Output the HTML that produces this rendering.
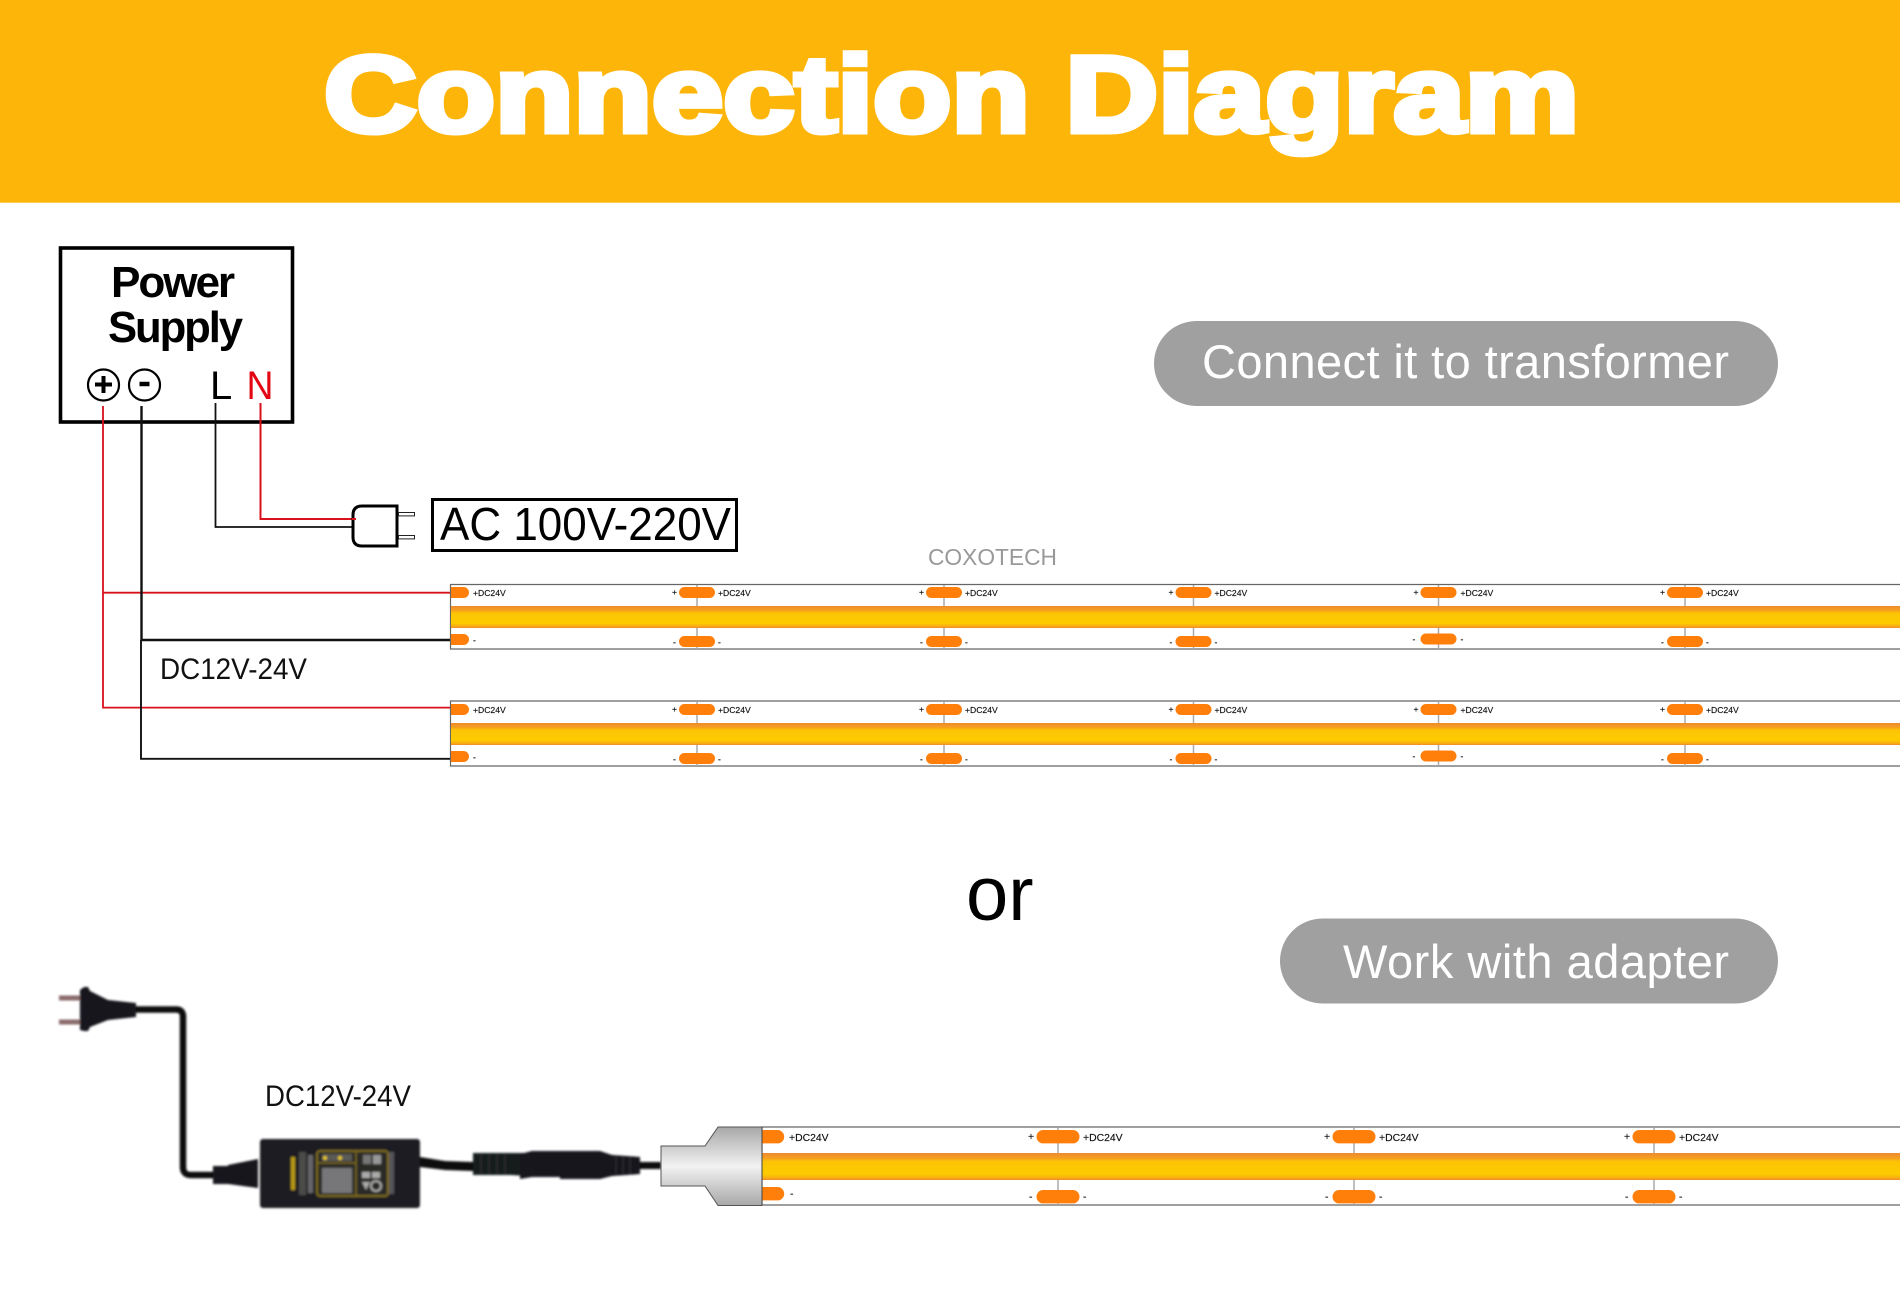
<!DOCTYPE html>
<html><head><meta charset="utf-8"><title>Connection Diagram</title>
<style>
html,body{margin:0;padding:0;background:#fff}
svg{display:block}
text{font-family:"Liberation Sans",sans-serif}
.s text{font-size:8.6px;fill:#111;stroke:#111;stroke-width:.15}
.l text{font-size:10.4px;fill:#111;stroke:#111;stroke-width:.15}
.cut{stroke:#aaa;stroke-width:1.5}
.p{fill:#ff7f0a}
</style></head><body>
<svg width="1900" height="1310" viewBox="0 0 1900 1310" xmlns="http://www.w3.org/2000/svg">
<defs>
<linearGradient id="b" x1="0" y1="0" x2="0" y2="1">
<stop offset="0" stop-color="#ee8a2e"/><stop offset=".2" stop-color="#f6a01f"/><stop offset=".32" stop-color="#fcc405"/><stop offset=".78" stop-color="#fdcb00"/><stop offset=".92" stop-color="#f9ad12"/><stop offset="1" stop-color="#ee8a2e"/>
</linearGradient>
<linearGradient id="g" x1="0" y1="0" x2="0" y2="1">
<stop offset="0" stop-color="#a8a8a8"/><stop offset=".5" stop-color="#f2f2f2"/><stop offset="1" stop-color="#a8a8a8"/>
</linearGradient>
<filter id="soft" x="-5%" y="-5%" width="110%" height="110%"><feGaussianBlur stdDeviation="1"/></filter>
</defs>
<rect width="1900" height="1310" fill="#fff"/>
<rect width="1900" height="202.7" fill="#fdb50a"/>
<text x="324" y="131.5" font-size="108" font-weight="700" fill="#fff" stroke="#fff" stroke-width="6" stroke-linejoin="miter" textLength="1255" lengthAdjust="spacingAndGlyphs">Connection Diagram</text>

<!-- power supply -->
<rect x="60.5" y="248" width="232" height="174" fill="none" stroke="#000" stroke-width="3.6"/>
<text x="111" y="297" font-size="44" font-weight="700" letter-spacing="-2.1" fill="#000" textLength="122" lengthAdjust="spacingAndGlyphs">Power</text>
<text x="108" y="342" font-size="44" font-weight="700" letter-spacing="-2.1" fill="#000" textLength="133" lengthAdjust="spacingAndGlyphs">Supply</text>
<circle cx="103.5" cy="385" r="15.5" fill="none" stroke="#000" stroke-width="2.2"/>
<circle cx="144.5" cy="385" r="15.5" fill="none" stroke="#000" stroke-width="2.2"/>
<path d="M103.5 376v17M95 384.5h17" stroke="#000" stroke-width="4" fill="none"/>
<path d="M139.5 384h10" stroke="#000" stroke-width="4.5" fill="none"/>
<text x="210" y="399" font-size="40" fill="#000">L</text>
<text x="246.5" y="399" font-size="40" fill="#e30613" textLength="27" lengthAdjust="spacingAndGlyphs">N</text>

<!-- wires -->
<path d="M215.5 403V527H352" fill="none" stroke="#111" stroke-width="1.8"/>
<path d="M260.5 403V519H355" fill="none" stroke="#d9111b" stroke-width="2"/>
<path d="M103 406V707.6H450M103 592.7H450" fill="none" stroke="#d9111b" stroke-width="1.8"/>
<path d="M141.5 406V640H450" fill="none" stroke="#111" stroke-width="2.4"/>
<path d="M141 640V758.8H450" fill="none" stroke="#111" stroke-width="1.9"/>

<!-- AC plug -->
<path d="M397 506H362Q353 506 353 515V537Q353 546 362 546H397Z" fill="none" stroke="#000" stroke-width="3"/>
<rect x="398.5" y="512.5" width="16" height="3.4" fill="#fff" stroke="#222" stroke-width="1"/>
<rect x="398.5" y="535.5" width="16" height="3.4" fill="#fff" stroke="#222" stroke-width="1"/>
<path d="M352 519h4" stroke="#d9111b" stroke-width="2"/>
<rect x="432.5" y="499.5" width="304" height="51" fill="none" stroke="#000" stroke-width="3"/>
<text x="440" y="540" font-size="46" fill="#000" textLength="291" lengthAdjust="spacingAndGlyphs">AC 100V-220V</text>

<!-- pills -->
<rect x="1154" y="321" width="624" height="85" rx="42.5" fill="#a0a0a0"/>
<text x="1202" y="378" font-size="47" fill="#fff" textLength="527">Connect it to transformer</text>
<rect x="1280" y="918.5" width="498" height="85" rx="42.5" fill="#a0a0a0"/>
<text x="1343" y="978" font-size="47" fill="#fff" textLength="386">Work with adapter</text>

<text x="928" y="565" font-size="23.5" fill="#999" textLength="129" lengthAdjust="spacingAndGlyphs">COXOTECH</text>
<text x="160" y="679" font-size="30" fill="#111" textLength="147" lengthAdjust="spacingAndGlyphs">DC12V-24V</text>
<text x="265" y="1106" font-size="30" fill="#111" textLength="146" lengthAdjust="spacingAndGlyphs">DC12V-24V</text>
<text x="966" y="920" font-size="76" fill="#000">or</text>

<!-- strip 1 -->
<path d="M1900 584.5H450.5V649H1900" fill="none" stroke="#666" stroke-width="1.2"/>
<rect x="451" y="606" width="1449" height="22" fill="url(#b)"/>
<g class="s">
<path class="p" d="M451 587h12.5a5.5 5.5 0 0 1 0 11H451zM451 634h12.5a5.5 5.5 0 0 1 0 11H451z"/>
<text x="473" y="596">+DC24V</text><text x="473" y="643">-</text>
<g transform="translate(697 0)"><path class="cut" d="M0 585V606M0 628V649"/><rect class="p" x="-18" y="587" width="36" height="11" rx="5.5"/><rect class="p" x="-18" y="636" width="36" height="11" rx="5.5"/><text x="-25" y="595">+</text><text x="21" y="596">+DC24V</text><text x="-24" y="645">-</text><text x="21" y="645">-</text></g>
<g transform="translate(944 0)"><path class="cut" d="M0 585V606M0 628V649"/><rect class="p" x="-18" y="587" width="36" height="11" rx="5.5"/><rect class="p" x="-18" y="636" width="36" height="11" rx="5.5"/><text x="-25" y="595">+</text><text x="21" y="596">+DC24V</text><text x="-24" y="645">-</text><text x="21" y="645">-</text></g>
<g transform="translate(1193.5 0)"><path class="cut" d="M0 585V606M0 628V649"/><rect class="p" x="-18" y="587" width="36" height="11" rx="5.5"/><rect class="p" x="-18" y="636" width="36" height="11" rx="5.5"/><text x="-25" y="595">+</text><text x="21" y="596">+DC24V</text><text x="-24" y="645">-</text><text x="21" y="645">-</text></g>
<g transform="translate(1438.5 0)"><path class="cut" d="M0 585V606M0 628V649"/><rect class="p" x="-18" y="587" width="36" height="11" rx="5.5"/><rect class="p" x="-18" y="633.5" width="36" height="11" rx="5.5"/><text x="-25" y="595">+</text><text x="22" y="596">+DC24V</text><text x="-26" y="642">-</text><text x="22" y="642">-</text></g>
<g transform="translate(1685 0)"><path class="cut" d="M0 585V606M0 628V649"/><rect class="p" x="-18" y="587" width="36" height="11" rx="5.5"/><rect class="p" x="-18" y="636" width="36" height="11" rx="5.5"/><text x="-25" y="595">+</text><text x="21" y="596">+DC24V</text><text x="-24" y="645">-</text><text x="21" y="645">-</text></g>
</g>

<!-- strip 2 -->
<path d="M1900 701H450.5V766H1900" fill="none" stroke="#666" stroke-width="1.2"/>
<rect x="451" y="723" width="1449" height="22" fill="url(#b)"/>
<g class="s">
<path class="p" d="M451 704h12.5a5.5 5.5 0 0 1 0 11H451zM451 751h12.5a5.5 5.5 0 0 1 0 11H451z"/>
<text x="473" y="713">+DC24V</text><text x="473" y="760">-</text>
<g transform="translate(697 0)"><path class="cut" d="M0 702V723M0 745V766"/><rect class="p" x="-18" y="704" width="36" height="11" rx="5.5"/><rect class="p" x="-18" y="753" width="36" height="11" rx="5.5"/><text x="-25" y="712">+</text><text x="21" y="713">+DC24V</text><text x="-24" y="762">-</text><text x="21" y="762">-</text></g>
<g transform="translate(944 0)"><path class="cut" d="M0 702V723M0 745V766"/><rect class="p" x="-18" y="704" width="36" height="11" rx="5.5"/><rect class="p" x="-18" y="753" width="36" height="11" rx="5.5"/><text x="-25" y="712">+</text><text x="21" y="713">+DC24V</text><text x="-24" y="762">-</text><text x="21" y="762">-</text></g>
<g transform="translate(1193.5 0)"><path class="cut" d="M0 702V723M0 745V766"/><rect class="p" x="-18" y="704" width="36" height="11" rx="5.5"/><rect class="p" x="-18" y="753" width="36" height="11" rx="5.5"/><text x="-25" y="712">+</text><text x="21" y="713">+DC24V</text><text x="-24" y="762">-</text><text x="21" y="762">-</text></g>
<g transform="translate(1438.5 0)"><path class="cut" d="M0 702V723M0 745V766"/><rect class="p" x="-18" y="704" width="36" height="11" rx="5.5"/><rect class="p" x="-18" y="750.5" width="36" height="11" rx="5.5"/><text x="-25" y="712">+</text><text x="22" y="713">+DC24V</text><text x="-26" y="759">-</text><text x="22" y="759">-</text></g>
<g transform="translate(1685 0)"><path class="cut" d="M0 702V723M0 745V766"/><rect class="p" x="-18" y="704" width="36" height="11" rx="5.5"/><rect class="p" x="-18" y="753" width="36" height="11" rx="5.5"/><text x="-25" y="712">+</text><text x="21" y="713">+DC24V</text><text x="-24" y="762">-</text><text x="21" y="762">-</text></g>
</g>

<!-- strip 3 -->
<path d="M1900 1127H762V1205H1900" fill="none" stroke="#666" stroke-width="1.2"/>
<rect x="762" y="1153" width="1138" height="27" fill="url(#b)"/>
<g class="l">
<path class="p" d="M762 1130h15.5a6.7 6.7 0 0 1 0 13.4H762zM762 1187h15.5a6.7 6.7 0 0 1 0 13.4H762z"/>
<text x="789" y="1141">+DC24V</text><text x="790" y="1197">-</text>
<g transform="translate(1058 0)"><path class="cut" d="M0 1128V1153M0 1180V1205"/><rect class="p" x="-21.5" y="1130" width="43" height="13.4" rx="6.7"/><rect class="p" x="-21.5" y="1190" width="43" height="13.4" rx="6.7"/><text x="-30" y="1140">+</text><text x="25" y="1141">+DC24V</text><text x="-29" y="1200">-</text><text x="25" y="1200">-</text></g>
<g transform="translate(1354 0)"><path class="cut" d="M0 1128V1153M0 1180V1205"/><rect class="p" x="-21.5" y="1130" width="43" height="13.4" rx="6.7"/><rect class="p" x="-21.5" y="1190" width="43" height="13.4" rx="6.7"/><text x="-30" y="1140">+</text><text x="25" y="1141">+DC24V</text><text x="-29" y="1200">-</text><text x="25" y="1200">-</text></g>
<g transform="translate(1654 0)"><path class="cut" d="M0 1128V1153M0 1180V1205"/><rect class="p" x="-21.5" y="1130" width="43" height="13.4" rx="6.7"/><rect class="p" x="-21.5" y="1190" width="43" height="13.4" rx="6.7"/><text x="-30" y="1140">+</text><text x="25" y="1141">+DC24V</text><text x="-29" y="1200">-</text><text x="25" y="1200">-</text></g>
</g>

<!-- photo parts -->
<g filter="url(#soft)">
<rect x="59" y="995.5" width="21" height="5" fill="#8a6a6a"/><rect x="59" y="1019.5" width="21" height="5" fill="#8a6a6a"/>
<path d="M80 990L84 987H88L90 991L108 1000L136 1003V1017L108 1020L90 1027L88 1031H84L80 1030Z" fill="#17191d"/>
<path d="M136 1009.5H176Q183 1009.5 183 1016.5V1167Q183 1175 191 1175H216" fill="none" stroke="#111" stroke-width="6.5"/>
<path d="M213 1166H230V1184H213Z" fill="#17191d"/>
<path d="M228 1165L258 1159V1188L228 1184Z" fill="#17191d"/>
<rect x="260" y="1139" width="160" height="69" rx="3" fill="#1a1c20"/>
<path d="M420 1157L445 1161L473 1162V1171L445 1170L420 1167Z" fill="#111"/>
<path d="M473 1153H510L530 1153V1176L510 1175H473Z" fill="#181a1e"/>
<path d="M481 1154v20M489 1154v20M497 1154v20M505 1154v20" stroke="#2f3136" stroke-width="1.2"/>
<path d="M520 1154L532 1151H560V1177H532L520 1179Z" fill="#17191d"/>
<path d="M560 1151H600L612 1155L640 1157V1174L612 1176L600 1179H560Z" fill="#17191d"/>
<path d="M616 1157v17M623 1157v17M630 1157v17" stroke="#2f3136" stroke-width="1.2"/>
<rect x="640" y="1162" width="21" height="7" fill="#111"/>
<!-- adapter label -->
<rect x="317" y="1151" width="71" height="45" rx="3" fill="#2a2a28" stroke="#7d6b1e" stroke-width="2"/>
<path d="M317 1163H356M356 1151V1196" stroke="#7d6b1e" stroke-width="1.5" fill="none"/>
<rect x="322" y="1168" width="30" height="25" fill="#77777a"/>
<rect x="322" y="1154" width="30" height="7" fill="#5a5a56"/>
<circle cx="325" cy="1158" r="2" fill="#e8c81e"/><circle cx="340" cy="1158" r="2" fill="#e8c81e"/>
<rect x="363" y="1155" width="8" height="9" fill="#777"/><rect x="373" y="1155" width="8" height="9" fill="#999"/>
<rect x="362" y="1172" width="8" height="6" fill="#aaa"/><rect x="372" y="1172" width="8" height="6" fill="#aaa"/>
<circle cx="376" cy="1186" r="5" fill="none" stroke="#aaa" stroke-width="2"/>
<path d="M362 1182h8l-4 8z" fill="#aaa"/>
<rect x="291" y="1157" width="4" height="33" fill="#b89a18"/>
<rect x="299" y="1152" width="7" height="43" fill="#4c4c48"/>
<rect x="308" y="1155" width="5" height="38" fill="#66666a"/>
<rect x="389" y="1152" width="5" height="42" fill="#55555a"/>
</g>
<path d="M661 1146H705L718 1127H762V1205.5H718L705 1186H661Z" fill="url(#g)" stroke="#555" stroke-width="1"/>
<path d="M762 1127V1205.5" stroke="#444" stroke-width="1"/>
</svg>
</body></html>
